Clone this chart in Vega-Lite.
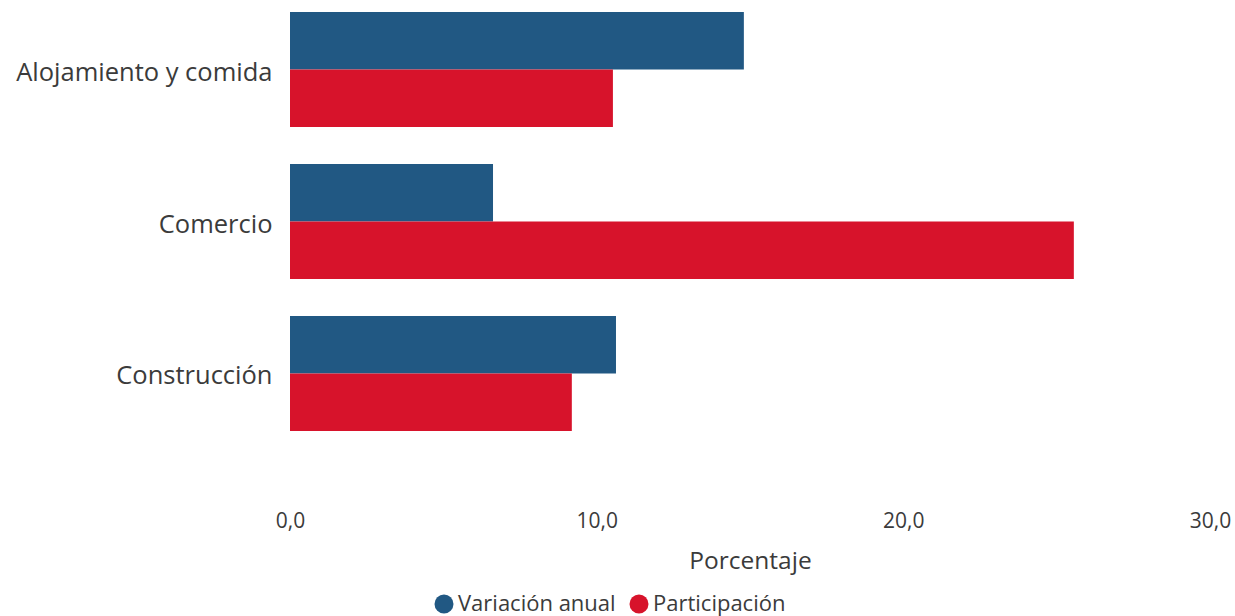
{
  "$schema": "https://vega.github.io/schema/vega-lite/v6.json",
  "width": 920,
  "height": 443,
  "autosize": {"type": "none"},
  "padding": {"left": 290, "top": 0, "right": 25, "bottom": 173},
  "background": "white",
  "config": {
    "view": {"stroke": null},
    "font": "Open Sans",
    "text": {"font": "Open Sans"}
  },
  "data": {
    "values": [
      {"Sector": "Alojamiento y comida", "Serie": "Variación anual", "Valor": 14.8},
      {"Sector": "Alojamiento y comida", "Serie": "Participación", "Valor": 10.53},
      {"Sector": "Comercio", "Serie": "Variación anual", "Valor": 6.62},
      {"Sector": "Comercio", "Serie": "Participación", "Valor": 25.56},
      {"Sector": "Construcción", "Serie": "Variación anual", "Valor": 10.63},
      {"Sector": "Construcción", "Serie": "Participación", "Valor": 9.19}
    ]
  },
  "mark": {"type": "bar"},
  "encoding": {
    "y": {
      "field": "Sector",
      "type": "nominal",
      "sort": ["Alojamiento y comida", "Comercio", "Construcción"],
      "scale": {"paddingInner": 0.243, "paddingOuter": 0.079},
      "axis": {
        "title": null,
        "domain": false,
        "ticks": false,
        "labelFontSize": 25.5,
        "labelColor": "#3b3b3b",
        "labelPadding": 18,
        "labelOffset": 3,
        "labelLimit": 400
      }
    },
    "yOffset": {
      "field": "Serie",
      "type": "nominal",
      "sort": ["Variación anual", "Participación"],
      "scale": {"paddingInner": 0, "paddingOuter": 0}
    },
    "x": {
      "field": "Valor",
      "type": "quantitative",
      "scale": {"domain": [0, 30], "nice": false},
      "axis": {
        "title": "Porcentaje",
        "values": [0, 10, 20, 30],
        "labelExpr": "replace(format(datum.value, '.1f'), '.', ',')",
        "grid": false,
        "domain": false,
        "ticks": false,
        "labelFontSize": 21,
        "labelColor": "#3b3b3b",
        "labelPadding": 67,
        "labelFlush": false,
        "titleFontSize": 24.5,
        "titleFontWeight": "normal",
        "titleColor": "#3b3b3b",
        "titlePadding": 18
      }
    },
    "color": {
      "field": "Serie",
      "type": "nominal",
      "sort": ["Variación anual", "Participación"],
      "scale": {
        "domain": ["Variación anual", "Participación"],
        "range": ["#215883", "#d7132b"]
      },
      "legend": {
        "title": null,
        "orient": "none",
        "direction": "horizontal",
        "legendX": 143,
        "legendY": 593,
        "symbolType": "circle",
        "symbolSize": 360,
        "symbolStrokeWidth": 0,
        "labelFontSize": 22,
        "labelColor": "#3b3b3b",
        "labelOffset": 3,
        "columnPadding": 12
      }
    }
  }
}
